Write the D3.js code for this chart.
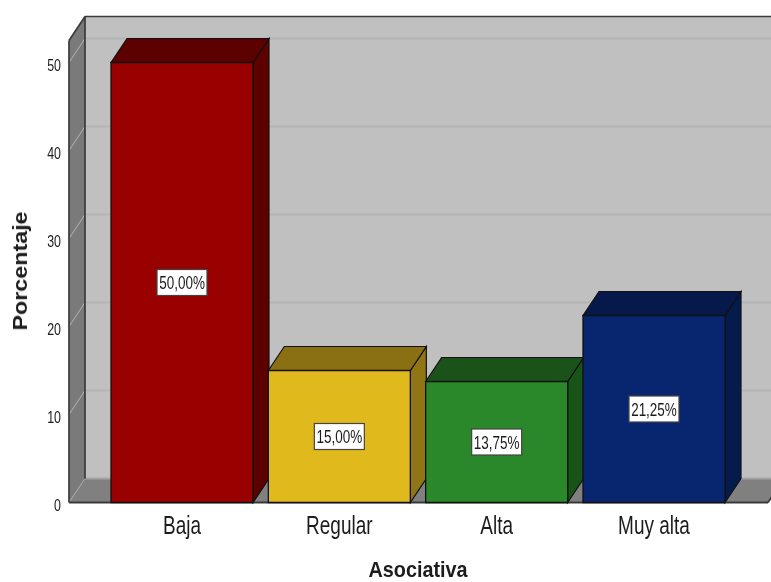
<!DOCTYPE html>
<html><head><meta charset="utf-8">
<script src="https://cdn.jsdelivr.net/npm/d3@7"></script>
<style>html,body{margin:0;padding:0;background:#fff}svg{display:block}text{font-family:"Liberation Sans",Arial,sans-serif;fill:#1c1c1c}</style>
</head><body><div id="c"></div>
<script>
const categories = ["Baja","Regular","Alta","Muy alta"];
const percentages = [50, 15, 13.75, 21.25];
const valueLabels = ["50,00%","15,00%","13,75%","21,25%"];
const yTicks = [0,10,20,30,40,50];
const frontColors = ["#990000","#e0b91d","#2a872a","#08266f"];
const topColors = ["#5c0000","#8a7012","#1a521a","#051a4a"];
const sideColors = ["#5c0000","#8f7514","#185418","#051b4d"];

const W=771,H=582,dx=16,dy=-24;
const root=d3.select("#c").append("svg").attr("width",W).attr("height",H);
const flt=root.append("defs").append("filter").attr("id","soft").attr("x",0).attr("y",0).attr("filterUnits","userSpaceOnUse").attr("color-interpolation-filters","sRGB");
flt.attr("width",W).attr("height",H);
flt.append("feGaussianBlur").attr("stdDeviation",0.45);
const svg=root.append("g").attr("filter","url(#soft)");
const y=d3.scaleLinear().domain([0,50]).range([502.5,62.5]);
const x=d3.scaleBand().domain(categories).range([111,725]).paddingInner(0.0974).paddingOuter(0);
const wallTop=y(52.5), left=69, right=768;
const poly=(pts,fill,stroke,sw)=>svg.append("polygon").attr("points",pts.map(p=>p.join(",")).join(" ")).attr("fill",fill).attr("stroke",stroke||"none").attr("stroke-width",sw||0);

function squeezed(cx,cy,str,size,sx,weight,anchor,rot){
  svg.append("text").attr("transform",`translate(${cx},${cy})${rot?` rotate(${rot})`:""} scale(${sx},1)`)
    .attr("text-anchor",anchor||"middle").attr("font-size",size).attr("font-weight",weight).text(str);
}

// back wall, side wall, floor
poly([[left+dx,wallTop+dy],[W+5,wallTop+dy],[W+5,y(0)+dy],[left+dx,y(0)+dy]],"#c0c0c0");
poly([[left,wallTop],[left+dx,wallTop+dy],[left+dx,y(0)+dy],[left,y(0)]],"#7a7a7a");
poly([[left,y(0)],[left+dx,y(0)+dy],[right+dx,y(0)+dy],[right,y(0)]],"#808080");

// gridlines
yTicks.filter(d=>d>0).forEach(t=>{
  svg.append("line").attr("x1",left+dx).attr("x2",W).attr("y1",y(t)+dy).attr("y2",y(t)+dy).attr("stroke","#b4b4b4").attr("stroke-width",2);
  svg.append("line").attr("x1",left).attr("x2",left+dx).attr("y1",y(t)).attr("y2",y(t)+dy).attr("stroke","#b4b4b4").attr("stroke-width",1);
});
svg.append("line").attr("x1",left).attr("x2",left+dx).attr("y1",y(0)).attr("y2",y(0)+dy).attr("stroke","#a8a8a8").attr("stroke-width",1);
svg.append("line").attr("x1",left+dx).attr("x2",W).attr("y1",y(0)+dy).attr("y2",y(0)+dy).attr("stroke","#a4a4a4").attr("stroke-width",2);

// frame lines
const frame=[[[left,y(0)],[left,wallTop]],[[left,wallTop],[left+dx,wallTop+dy]],[[left+dx,wallTop+dy],[W,wallTop+dy]],[[left+dx,wallTop+dy],[left+dx,y(0)+dy]],[[left,y(0)],[right,y(0)]],[[right,y(0)],[right+dx,y(0)+dy]]];
frame.forEach((s,i)=>svg.append("line").attr("x1",s[0][0]).attr("y1",s[0][1]).attr("x2",s[1][0]).attr("y2",s[1][1]).attr("stroke","#3a3a3a").attr("stroke-width",i===4?1.8:1.7));

// bars
categories.forEach((c,i)=>{
  const x0=x(c),x1=x0+x.bandwidth(),yt=y(percentages[i]),yb=y(0);
  poly([[x1,yt],[x1+dx,yt+dy],[x1+dx,yb+dy],[x1,yb]],sideColors[i],"#111",1.2);
  poly([[x0,yt],[x0+dx,yt+dy],[x1+dx,yt+dy],[x1,yt]],topColors[i],"#111",1.2);
  poly([[x0,yt],[x1,yt],[x1,yb],[x0,yb]],frontColors[i],"#111",1.3);
  const cx=(x0+x1)/2, cy=(yt+yb)/2;
  svg.append("rect").attr("x",cx-25).attr("y",cy-13).attr("width",50).attr("height",26).attr("fill","#fff").attr("stroke","#444").attr("stroke-width",1.2);
  squeezed(cx,cy+6.5,valueLabels[i],18,0.75,"400");
});

// axis labels placed from the scales
yTicks.forEach(t=>squeezed(61,y(t)+8.5,String(t),17,0.73,"400","end"));
categories.forEach(c=>squeezed(x(c)+x.bandwidth()/2,534,c,25,0.76,"400"));
squeezed(418,577,"Asociativa",22,0.9,"700");
squeezed(27,271,"Porcentaje",21,1.11,"700","middle",-90);
</script></body></html>
